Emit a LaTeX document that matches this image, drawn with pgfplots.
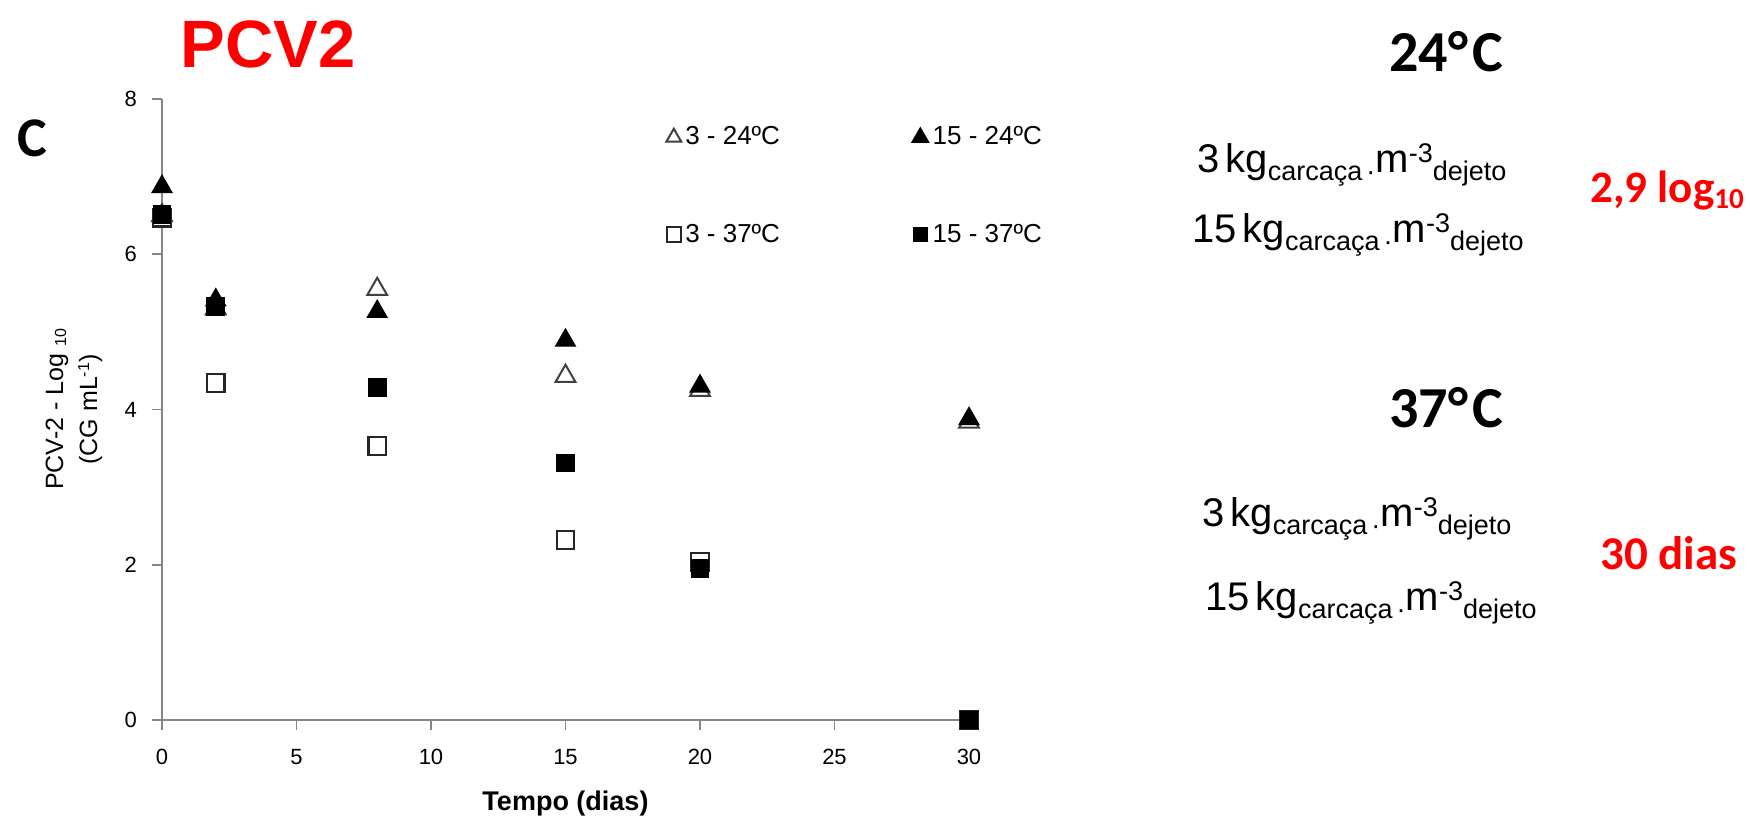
\documentclass[border=0pt]{standalone}
\usepackage{pgfplots}
\pgfplotsset{compat=1.18}
\usepackage{fontspec}
\setmainfont{Liberation Sans}
\newfontfamily\carlito{Carlito}
\definecolor{axgray}{RGB}{134,134,134}
\definecolor{pcvred}{RGB}{255,0,0}
\newcommand{\sub}[1]{\raisebox{-4pt}{\fontsize{13.5}{13.5}\selectfont #1}}
\newcommand{\super}[1]{\raisebox{5pt}{\fontsize{13.5}{13.5}\selectfont #1}}
\newcommand{\kgline}[1]{{\fontsize{20}{24}\selectfont #1\hspace{0.15em}kg\sub{carcaça\hspace{0.15em}·}m\super{-3}\sub{dejeto}}}
\pgfplotsset{
  legA/.style={legend image code/.code={\draw[##1, mark size=4.3pt] plot coordinates {(0cm,0cm)};}},
  legB/.style={legend image code/.code={\draw[##1, mark size=4.8pt] plot coordinates {(0cm,0cm)};}},
  legC/.style={legend image code/.code={\draw[##1, mark size=3.6pt] plot coordinates {(0cm,0cm)};}},
  legD/.style={legend image code/.code={\draw[##1, mark size=3.4pt] plot coordinates {(0cm,0cm)};}},
}
\begin{document}
\begin{tikzpicture}
\useasboundingbox (-81pt,-48pt) rectangle (794pt,360pt);
\begin{axis}[
  at={(0pt,0pt)}, anchor=south west,
  scale only axis, width=403.5pt, height=310.5pt,
  xmin=0, xmax=30, ymin=0, ymax=8,
  axis lines=left,
  axis line style={-, axgray, line width=0.9pt},
  xtick={0,5,10,15,20,25,30},
  ytick={0,2,4,6,8},
  tick align=outside,
  major tick length=5pt,
  tick style={axgray, line width=0.9pt},
  ticklabel style={font=\fontsize{11}{13}\selectfont},
  xticklabel style={yshift=-6pt},
  yticklabel style={xshift=-4pt},
  /pgf/number format/assume math mode=true,
  clip=false,
  xlabel={\textbf{Tempo (dias)}},
  xlabel style={font=\fontsize{13.5}{15}\selectfont, at={(axis description cs:0.5,-0.1337)}, anchor=center},
  ylabel={PCV-2 - Log {\fontsize{8}{8}\selectfont\raisebox{-1.5pt}{10}}\\(CG mL\raisebox{4pt}{\fontsize{8}{8}\selectfont -1})},
  ylabel style={font=\fontsize{12.5}{17}\selectfont, align=center, at={(axis description cs:-0.109,0.5)}, anchor=center},
  legend columns=2,
  legend cell align=left,
  legend style={at={(axis description cs:0.6245,0.86)}, anchor=west, draw=none, fill=none, inner sep=0pt,
    font=\fontsize{13}{14}\selectfont, /tikz/row sep=34pt,
    /tikz/every even column/.append style={column sep=64pt}},
]
\addplot[only marks, mark=triangle*, mark size=5.7pt, mark options={fill=white, draw=black!75, line width=1pt}, legA]
  coordinates {(0,6.5) (2,5.3) (8,5.55) (15,4.43) (20,4.25) (30,3.84)};
\addlegendentry{3 - 24ºC}
\addplot[only marks, mark=triangle*, mark size=5.7pt, mark options={fill=black, draw=black, line width=0.6pt}, legB]
  coordinates {(0,6.87) (2,5.41) (8,5.26) (15,4.89) (20,4.3) (30,3.88)};
\addlegendentry{15 - 24ºC}
\addplot[only marks, mark=square*, mark size=4.4pt, mark options={fill=white, draw=black!85, line width=1.1pt}, legC]
  coordinates {(0,6.47) (2,4.34) (8,3.53) (15,2.32) (20,2.04) (30,0)};
\addlegendentry{3 - 37ºC}
\addplot[only marks, mark=square*, mark size=4.4pt, mark options={fill=black, draw=black, line width=0.6pt}, legD]
  coordinates {(0,6.51) (2,5.33) (8,4.28) (15,3.31) (20,1.95) (30,0)};
\addlegendentry{15 - 37ºC}
\end{axis}
% annotations (text only)
\node[text=pcvred, font=\fontsize{33.5}{36}\selectfont\bfseries, anchor=center] at (53pt,338pt) {PCV2};
\node[font=\carlito\fontsize{28}{30}\selectfont\bfseries, anchor=center] at (-65pt,291pt) {C};
\node[font=\carlito\fontsize{29}{32}\selectfont\bfseries, anchor=center] at (642pt,334pt) {24°\hspace{0.07em}C};
\node[font=\carlito\fontsize{29}{32}\selectfont\bfseries, anchor=center] at (642pt,156pt) {37°\hspace{0.07em}C};
\node[anchor=base west, inner sep=0pt] at (517.5pt,274pt) {\kgline{3}};
\node[anchor=base west, inner sep=0pt] at (515pt,239pt) {\kgline{15}};
\node[anchor=base west, inner sep=0pt] at (520pt,97pt) {\kgline{3}};
\node[anchor=base west, inner sep=0pt] at (521.5pt,55pt) {\kgline{15}};
\node[anchor=base west, inner sep=0pt, text=pcvred, font=\carlito\fontsize{22.5}{26}\selectfont\bfseries] at (714pt,259pt) {2,9 log\raisebox{-3pt}{\fontsize{14.5}{15}\selectfont 10}};
\node[anchor=base west, inner sep=0pt, text=pcvred, font=\carlito\fontsize{23.5}{26}\selectfont\bfseries] at (719pt,75.5pt) {30 dias};
\end{tikzpicture}
\end{document}
